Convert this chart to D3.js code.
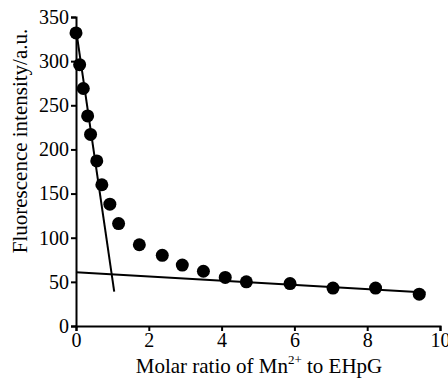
<!DOCTYPE html>
<html>
<head>
<meta charset="utf-8">
<script src="https://cdn.jsdelivr.net/npm/d3@7.9.0/dist/d3.min.js"></script>
</head>
<body style="margin: 0; background: #fff;">
<div id="chart"></div>
<script>
// molar ratio (x) and fluorescence intensity (y)
const ratio = [0, 0.1, 0.2, 0.32, 0.4, 0.57, 0.71, 0.93, 1.17, 1.74, 2.37, 2.92, 3.5, 4.1, 4.68, 5.88, 7.06, 8.23, 9.43];
const intensity = [332, 296, 269, 238, 217, 187, 160, 138, 116, 92, 80, 69, 62, 55, 50, 48, 43, 43, 36];

// the two fitted lines, as [x, y] end points
const steepFit = [[0, 336], [1.05, 39]];
const flatFit = [[0, 61], [9.6, 38]];

const xTicks = [0, 2, 4, 6, 8, 10];
const yTicks = [0, 50, 100, 150, 200, 250, 300, 350];

const width = 448;
const height = 378;
const margin = { top: 17, right: 8, bottom: 52, left: 76 };
const serif = 'Liberation Serif';

const svg = d3
  .select('#chart')
  .append('svg')
  .attr('width', width)
  .attr('height', height)
  .attr('font-family', serif)
  .style('display', 'block');

const xScale = d3
  .scaleLinear()
  .domain([0, 10])
  .range([margin.left, 440]);

const yScale = d3
  .scaleLinear()
  .domain([0, 350])
  .range([326, margin.top]);

function styleAxis(g) {
  g.attr('font-family', serif).attr('font-size', 20);
  g.selectAll('path, line').attr('stroke', '#000').attr('stroke-width', 2);
  g.selectAll('text').attr('fill', '#000');
}

svg
  .append('g')
  .attr('transform', `translate(0, ${yScale(0)})`)
  .call(d3.axisBottom(xScale).tickValues(xTicks).tickSize(5).tickSizeOuter(5).tickPadding(2))
  .call(styleAxis);

svg
  .append('g')
  .attr('transform', `translate(${xScale(0)}, 0)`)
  .call(d3.axisLeft(yScale).tickValues(yTicks).tickSize(5).tickSizeOuter(5).tickPadding(2))
  .call(styleAxis);

const line = d3.line()
  .x((d) => xScale(d[0]))
  .y((d) => yScale(d[1]));

svg
  .selectAll('.fit')
  .data([steepFit, flatFit])
  .join('path')
  .attr('class', 'fit')
  .attr('d', line)
  .attr('fill', 'none')
  .attr('stroke', '#000')
  .attr('stroke-width', 2);

svg
  .append('g')
  .selectAll('circle')
  .data(ratio.map((x, i) => [x, intensity[i]]))
  .join('circle')
  .attr('cx', (d) => xScale(d[0]))
  .attr('cy', (d) => yScale(d[1]))
  .attr('r', 6.5)
  .attr('fill', '#000');

const xLabel = svg
  .append('text')
  .attr('x', 259)
  .attr('y', 373)
  .attr('text-anchor', 'middle')
  .attr('font-size', 21);
xLabel.append('tspan').text('Molar ratio of Mn');
xLabel.append('tspan').attr('font-size', 13).attr('dy', -9).text('2+');
xLabel.append('tspan').attr('dy', 9).text(' to EHpG');

svg
  .append('text')
  .attr('transform', 'translate(27, 141) rotate(-90)')
  .attr('text-anchor', 'middle')
  .attr('font-size', 21)
  .text('Fluorescence intensity/a.u.');
</script>
</body>
</html>
